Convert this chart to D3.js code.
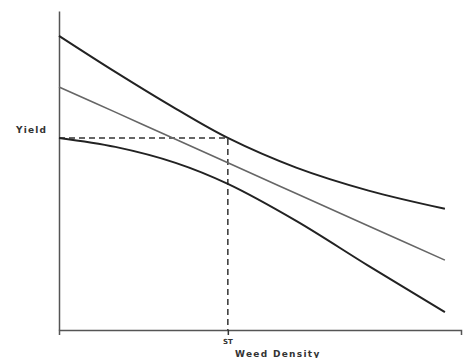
<!doctype html>
<html>
<head>
<meta charset="utf-8" />
<script src="https://cdn.jsdelivr.net/npm/d3@7"></script>
<style>
  body { margin: 0; background: #fff; }
  svg { display: block; }
  .lbl { font-family: "DejaVu Sans", sans-serif; font-weight: bold; fill: #333; }
</style>
</head>
<body>
<div id="chart"></div>
<script>
// weed density (arbitrary units, 0-100) and yield (arbitrary units, 0-100)
var density = [0, 14, 29, 42, 59, 77, 96];
var upperYield = [92.2, 80.9, 69.4, 60.2, 50.9, 43.7, 38.0];
var middleYield = [76.2, 68.3, 59.8, 52.4, 42.8, 32.6, 21.9];
var lowerYield = [60.2, 57.4, 52.4, 45.8, 34.2, 20.1, 5.6];
var thresholdX = 42;   // ST
var thresholdY = 60.2; // yield at ST

var width = 467, height = 358;

var x = d3.scaleLinear().domain([0, 100]).range([59, 461]);
var y = d3.scaleLinear().domain([0, 100]).range([330, 11]);

var svg = d3.select("#chart").append("svg")
    .attr("width", width)
    .attr("height", height);

// axes
var xAxis = d3.axisBottom(x).tickValues([thresholdX]).tickSize(5).tickFormat("");
var yAxis = d3.axisLeft(y).tickValues([]).tickSize(0);

svg.append("g").attr("transform", "translate(0," + y(0) + ")").call(xAxis)
  .call(function (g) {
    g.select(".domain").attr("stroke", "#555").attr("stroke-width", 1.5);
    g.selectAll(".tick line").attr("stroke", "#333").attr("stroke-width", 1.5);
  });
svg.append("g").attr("transform", "translate(" + x(0) + ",0)").call(yAxis)
  .call(function (g) {
    g.select(".domain").attr("stroke", "#555").attr("stroke-width", 1.5);
  });

// dashed threshold lines
svg.append("path")
    .attr("d", d3.line()([[x(0), y(thresholdY)], [x(thresholdX), y(thresholdY)], [x(thresholdX), y(0)]]))
    .attr("fill", "none")
    .attr("stroke", "#333")
    .attr("stroke-width", 1.5)
    .attr("stroke-dasharray", "6,4");

var line = function (vals) {
  return d3.line()
    .x(function (d, i) { return x(density[i]); })
    .y(function (d) { return y(d); })
    .curve(d3.curveCatmullRom.alpha(0.5))(vals);
};

svg.append("path").attr("d", line(middleYield))
    .attr("fill", "none").attr("stroke", "#666").attr("stroke-width", 1.6);
svg.append("path").attr("d", line(upperYield))
    .attr("fill", "none").attr("stroke", "#222").attr("stroke-width", 2);
svg.append("path").attr("d", line(lowerYield))
    .attr("fill", "none").attr("stroke", "#222").attr("stroke-width", 2);

// labels
svg.append("text").attr("class", "lbl")
    .attr("x", 16).attr("y", 133)
    .style("font-size", "9px").style("letter-spacing", "1.2px")
    .text("Yield");
svg.append("text").attr("class", "lbl")
    .attr("x", x(thresholdX)).attr("y", 344)
    .attr("text-anchor", "middle")
    .style("font-size", "7px")
    .text("ST");
svg.append("text").attr("class", "lbl")
    .attr("x", 235).attr("y", 357)
    .style("font-size", "9px").style("letter-spacing", "1.3px")
    .text("Weed Density");
</script>
</body>
</html>
